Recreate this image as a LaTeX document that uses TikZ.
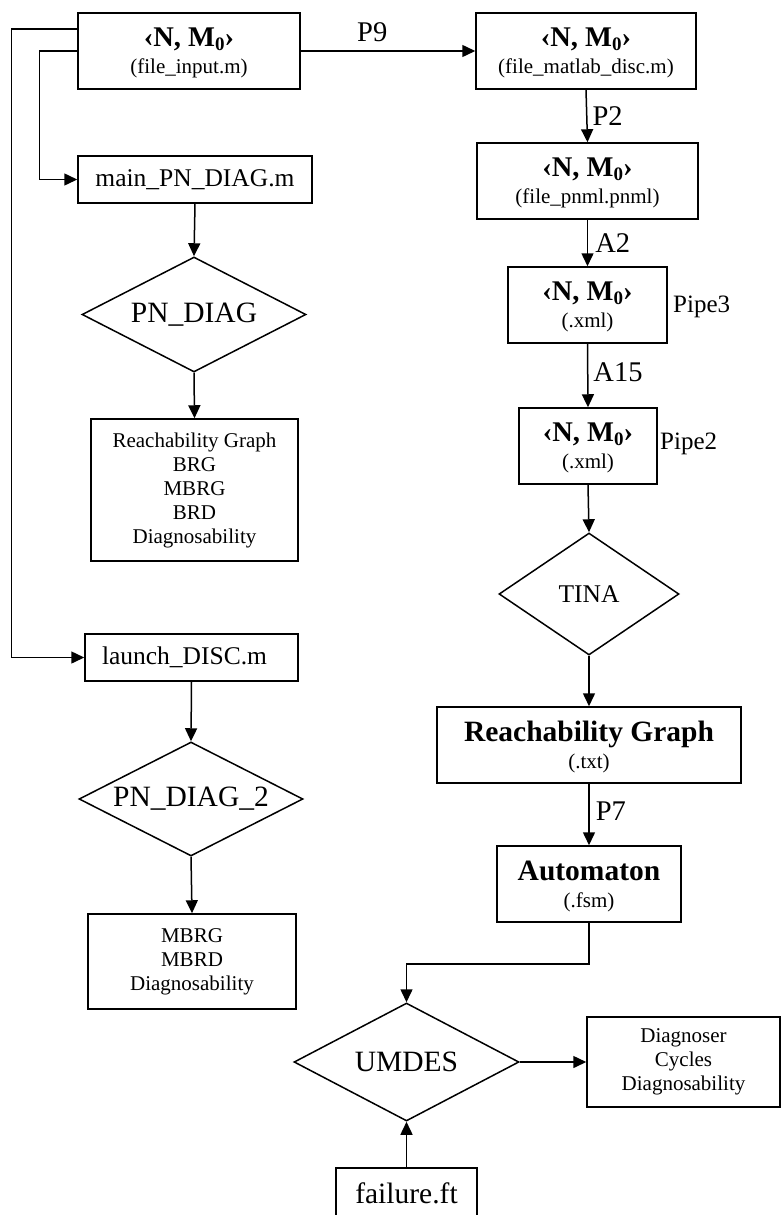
\documentclass[tikz,border=0pt]{standalone}
\usepackage{fontspec}
\setmainfont{Liberation Serif}
\usetikzlibrary{arrows.meta,shapes.geometric}
\newcommand\fsm{\fontsize{21}{24}\selectfont}
\newcommand\fhd{\fontsize{21}{27}\selectfont}
\newcommand\fmd{\fontsize{25.5}{28}\selectfont}
\newcommand\fbg{\fontsize{29.5}{32}\selectfont}
\newcommand\NMz{{\bfseries\fontsize{28.5}{30}\selectfont ‹N, M\raisebox{-4pt}{\fontsize{19}{19}\selectfont 0}›}}
\begin{document}
\begin{tikzpicture}[x=1pt,y=-1pt,
  box/.style={draw, line width=1.5pt, rectangle, inner sep=0pt, align=center},
  hbox/.style={box, font=\fhd, text depth=-5pt},
  dia/.style={draw, line width=1.5pt, diamond, aspect=2, inner sep=0pt},
  arr/.style={line width=1.5pt, -{Triangle[length=13pt,width=12pt]}},
  lbl/.style={inner sep=0pt, font=\fontsize{28.5}{30}\selectfont},
  plbl/.style={inner sep=0pt, font=\fontsize{25}{28}\selectfont, anchor=west},
]
\useasboundingbox (0,0) rectangle (781,1215);
% left column
\node[hbox, minimum width=222pt, minimum height=76pt] (b1) at (189,51) {\NMz\\(file\_input.m)};
\node[box, font=\fmd, minimum width=234pt, minimum height=47pt] (main) at (195,179.5) {main\_PN\_DIAG.m};
\node[dia, font=\fbg, minimum width=224pt, minimum height=115pt] (pnd) at (194,314.5) {PN\_DIAG};
\node[box, font=\fsm, minimum width=207pt, minimum height=142pt] (rgl) at (194.5,490) {Reachability Graph\\BRG\\MBRG\\BRD\\Diagnosability};
\node[box, font=\fmd, minimum width=213pt, minimum height=47pt, text width=179pt, align=left] (launch) at (191.5,657.5) {launch\_DISC.m};
\node[dia, font=\fbg, minimum width=224pt, minimum height=114pt] (pnd2) at (191,799) {PN\_DIAG\_2};
\node[box, font=\fsm, minimum width=208pt, minimum height=95pt] (mbrg) at (192,961.5) {MBRG\\MBRD\\Diagnosability};
% right column
\node[hbox, minimum width=220pt, minimum height=76pt] (b2) at (586,51) {\NMz\\(file\_matlab\_disc.m)};
\node[hbox, minimum width=221pt, minimum height=76pt] (b3) at (587.5,181) {\NMz\\(file\_pnml.pnml)};
\node[hbox, minimum width=159pt, minimum height=76pt] (b4) at (587.5,305) {\NMz\\(.xml)};
\node[hbox, minimum width=138pt, minimum height=76pt] (b5) at (588,446) {\NMz\\(.xml)};
\node[plbl] (pipe3) at (673,307) {Pipe3};
\node[plbl] (pipe2) at (660,444) {Pipe2};
\node[dia, font=\fmd, minimum width=180pt, minimum height=122pt] (tina) at (589,594) {TINA};
\node[hbox, minimum width=304pt, minimum height=76pt] (rg) at (589,745) {{\bfseries\fbg Reachability Graph}\\(.txt)};
\node[hbox, minimum width=184pt, minimum height=76pt] (auto) at (589,884) {{\bfseries\fbg Automaton}\\(.fsm)};
% bottom
\node[dia, font=\fbg, minimum width=225pt, minimum height=118pt] (umdes) at (406.5,1062) {UMDES};
\node[box, font=\fsm, minimum width=193pt, minimum height=90pt] (diag) at (683.5,1062) {Diagnoser\\Cycles\\Diagnosability};
\node[box, font=\fbg, minimum width=141pt, minimum height=50pt] (fail) at (406.5,1193) {failure.ft};
% connectors
\draw[arr] (b1.east) -- node[lbl, pos=0.41, above=8pt] (p9) {P9} (b2.west);
\draw[arr] (b2.south) -- node[lbl, right=5pt] (p2) {P2} (b3.north);
\draw[arr] (b3.south) -- node[lbl, right=7pt] (a2) {A2} (b4.north);
\draw[arr] (b4.south) -- node[lbl, right=5pt, pos=0.45] (a15) {A15} (b5.north);
\draw[arr] (b5.south) -- (tina.north);
\draw[arr] (tina.south) -- (rg.north);
\draw[arr] (rg.south) -- node[lbl, right=6pt, pos=0.45] (p7) {P7} (auto.north);
\draw[arr] (auto.south) -- ++(0,41) -| (umdes.north);
\draw[arr] (umdes.east) -- (diag.west);
\draw[arr] (fail.north) -- (umdes.south);
\draw[arr] ([yshift=22pt]b1.west) -- ++(-66,0) |- (launch.west);
\draw[arr] (b1.west) -- ++(-38,0) |- (main.west);
\draw[arr] (main.south) -- (pnd.north);
\draw[arr] (pnd.south) -- (rgl.north);
\draw[arr] (launch.south) -- (pnd2.north);
\draw[arr] (pnd2.south) -- (mbrg.north);
\end{tikzpicture}
\end{document}
